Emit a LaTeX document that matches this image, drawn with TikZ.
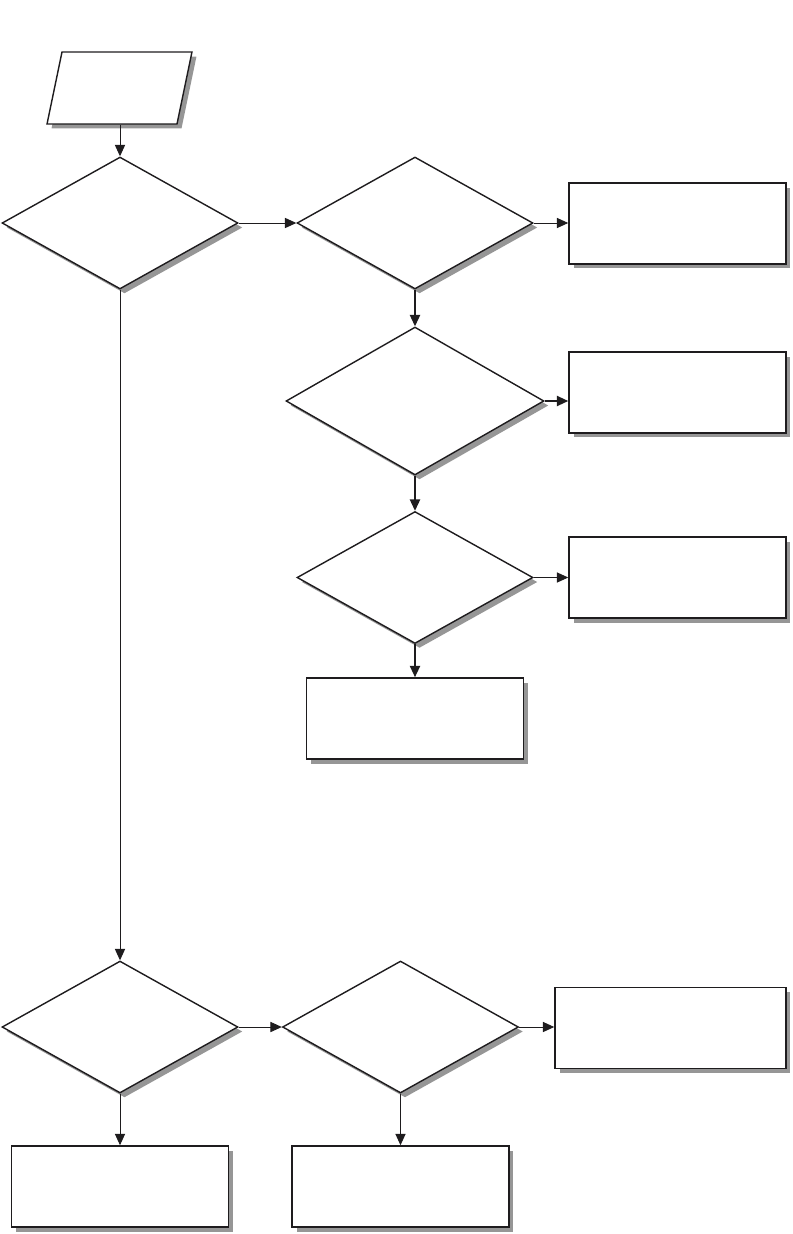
\documentclass[tikz,border=0pt]{standalone}
\usepackage{tikz}
\usetikzlibrary{shapes.geometric, arrows.meta, shadows}
\definecolor{mydark}{RGB}{30,28,30}
\definecolor{myshade}{RGB}{150,150,150}
\tikzset{
  boxshadow/.style={drop shadow={shadow xshift=0.09cm, shadow yshift=-0.09cm,
    fill=myshade, opacity=1}},
  inbox/.style={rectangle, xslant=0.208, draw=mydark, fill=white, inner sep=0pt,
    minimum width=2.6cm, minimum height=1.44cm, line width=0.8pt, boxshadow},
  decision/.style={diamond, draw=mydark, fill=white, inner sep=0pt,
    minimum width=4.72cm, minimum height=2.64cm, line width=0.8pt, boxshadow},
  bigdecision/.style={decision, minimum width=5.16cm, minimum height=2.96cm},
  process/.style={rectangle, draw=mydark, fill=white, inner sep=0pt,
    minimum width=4.34cm, minimum height=1.62cm, line width=0.9pt, boxshadow},
  arrow/.style={-{Triangle[length=6.5pt, width=5.8pt]}, line width=0.55pt, color=mydark},
  thickarrow/.style={arrow, line width=1pt}
}
\begin{document}
\begin{tikzpicture}[x=0.02cm, y=-0.02cm]
  \useasboundingbox (0,0) rectangle (792,1234);

  \node[inbox]       (input)  at (119.5, 88)  {};
  \node[decision]    (check1) at (120, 223)   {};
  \node[decision]    (check2) at (415, 223)   {};
  \node[bigdecision] (check3) at (415, 401)   {};
  \node[decision]    (check4) at (415, 577.5) {};
  \node[decision]    (check5) at (120, 1027)  {};
  \node[decision]    (check6) at (400.5, 1027) {};

  \node[process] (resA) at (677.5, 223.5)  {};
  \node[process] (resB) at (677.5, 392.5)  {};
  \node[process] (resC) at (677.5, 577.5)  {};
  \node[process] (resD) at (415, 718.5)    {};
  \node[process, minimum width=4.62cm] (resE) at (670.5, 1028) {};
  \node[process] (resF) at (120, 1186.5)   {};
  \node[process] (resG) at (400.5, 1186.5) {};

  \draw[arrow] (check1.north |- input.south) -- (check1.north);
  \draw[arrow] (check1.east) -- (check2.west);
  \draw[arrow] (check2.east) -- (check2.east -| resA.west);
  \draw[thickarrow] (check2.south) -- (check3.north);
  \draw[thickarrow] (check3.east) -- (check3.east -| resB.west);
  \draw[thickarrow] (check3.south) -- (check4.north);
  \draw[arrow] (check4.east) -- (check4.east -| resC.west);
  \draw[thickarrow] (check4.south) -- (resD.north);
  \draw[arrow] (check1.south) -- (check5.north);
  \draw[arrow] (check5.east) -- (check6.west);
  \draw[arrow] (check6.east) -- (check6.east -| resE.west);
  \draw[arrow] (check5.south) -- (resF.north);
  \draw[arrow] (check6.south) -- (resG.north);
\end{tikzpicture}
\end{document}
